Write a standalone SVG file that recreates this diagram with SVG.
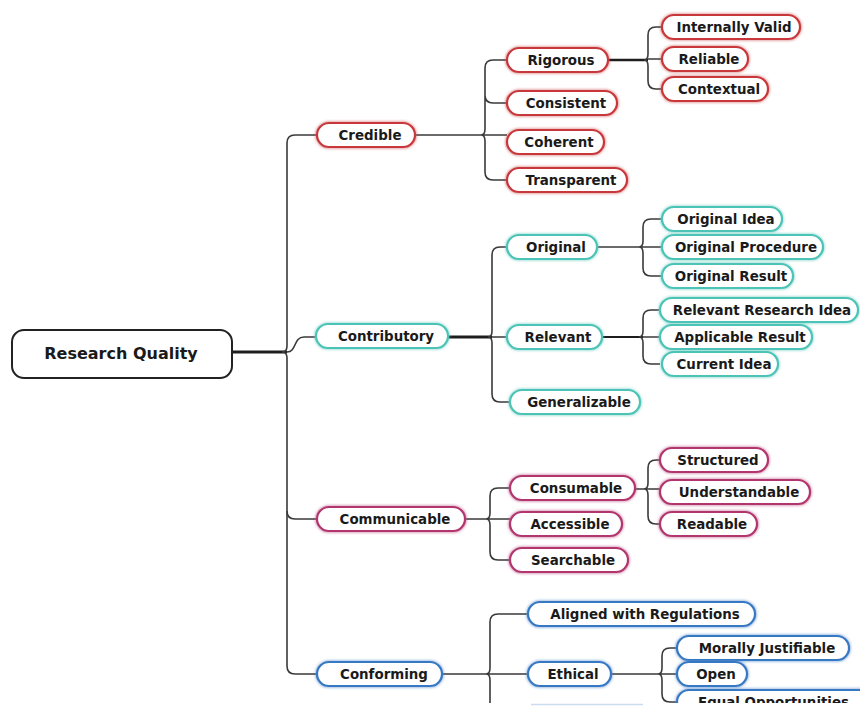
<svg xmlns="http://www.w3.org/2000/svg" width="860" height="709" viewBox="0 0 860 709">
<defs>
<filter id="glow" x="-10%" y="-40%" width="120%" height="180%">
<feGaussianBlur in="SourceGraphic" stdDeviation="1.6" result="b"/>
<feMerge><feMergeNode in="b"/><feMergeNode in="SourceGraphic"/></feMerge>
</filter>
</defs>
<style>
text{font-family:"DejaVu Sans","Liberation Sans",sans-serif;font-weight:bold;font-size:13.4px;fill:#1a1a1a;text-anchor:middle}
.n rect{fill:#fff;stroke-width:2.2;filter:url(#glow)}
.red rect{stroke:#c8373a}
.teal rect{stroke:#4bc3b6}
.mag rect{stroke:#b2346f}
.blue rect{stroke:#3678c4}
.root rect{stroke:#222;stroke-width:2;filter:none}
.root text{font-size:16px}
#connectors path{fill:none;stroke:#3a3a3a;stroke-width:1.6}
#connectors path.thick{stroke:#1e1e1e;stroke-width:3}
</style>
<rect width="860" height="709" fill="#fff"/>
<g id="connectors">
<path class="thick" d="M232,352 H287"/>
<path d="M317,135 H295 Q287,135 287,143 V346 Q287,352 282,352 M282,352 Q287,352 287,358 V666 Q287,674 295,674 H317"/>
<path d="M287,352 C297,352 293,337 304,337 H316"/>
<path d="M287,511 Q287,519 295,519 H317"/>
<path d="M415,135 H507 M507,60 H493 Q485,60 485,68 V129 Q485,135 481,135 M481,135 Q485,135 485,141 V172 Q485,180 493,180 H507 M485,95 Q485,103 493,103 H507"/>
<path class="thick" d="M608,60 H648" style="stroke-width:2.4"/>
<path d="M648,59 H662 M662,27 H656 Q648,27 648,35 V54 Q648,60 644,60 M644,60 Q648,60 648,66 V81 Q648,89 656,89 H662"/>
<path class="thick" d="M448,337 H492"/>
<path d="M492,337 H507 M507,247 H500 Q492,247 492,255 V331 Q492,337 488,337 M488,337 Q492,337 492,343 V394 Q492,402 500,402 H510"/>
<path d="M597,247 H662 M662,219 H651 Q643,219 643,227 V241 Q643,247 639,247 M639,247 Q643,247 643,253 V268 Q643,276 651,276 H662"/>
<path class="thick" d="M602,337 H643" style="stroke-width:2.2"/>
<path d="M643,337 H660 M660,310 H651 Q643,310 643,318 V331 Q643,337 639,337 M639,337 Q643,337 643,343 V356 Q643,364 651,364 H660"/>
<path d="M465,519 H510 M510,488 H498 Q490,488 490,496 V513 Q490,519 486,519 M486,519 Q490,519 490,525 V552 Q490,560 498,560 H510"/>
<path d="M635,489 H660 M660,460 H656 Q648,460 648,468 V483 Q648,489 644,489 M644,489 Q648,489 648,495 V516 Q648,524 656,524 H660"/>
<path d="M442,674 H528 M528,614 H498 Q490,614 490,622 V668 Q490,674 486,674 M486,674 Q490,674 490,680 V720"/>
<path d="M610,674 H677 M677,648 H670 Q662,648 662,656 V668 Q662,674 658,674 M658,674 Q662,674 662,680 V694 Q662,702 670,702 H677"/>
</g>
<g id="root" class="n root"><rect x="12" y="330" width="220" height="48" rx="12"/><text x="121" y="359">Research Quality</text></g>
<g id="credible" class="n red"><rect x="317" y="123" width="98" height="24" rx="12"/><text x="370" y="140">Credible</text></g>
<g id="rigorous" class="n red"><rect x="507" y="48" width="101" height="24" rx="12"/><text x="561" y="65">Rigorous</text></g>
<g id="consistent" class="n red"><rect x="507" y="91" width="110" height="24" rx="12"/><text x="566" y="108">Consistent</text></g>
<g id="coherent" class="n red"><rect x="507" y="130" width="97" height="24" rx="12"/><text x="559" y="147">Coherent</text></g>
<g id="transparent" class="n red"><rect x="507" y="168" width="120" height="24" rx="12"/><text x="571" y="185">Transparent</text></g>
<g id="internally-valid" class="n red"><rect x="662" y="15" width="138" height="24" rx="12"/><text x="734" y="32">Internally Valid</text></g>
<g id="reliable" class="n red"><rect x="662" y="47" width="86" height="24" rx="12"/><text x="709" y="64">Reliable</text></g>
<g id="contextual" class="n red"><rect x="662" y="77" width="106" height="24" rx="12"/><text x="719" y="94">Contextual</text></g>
<g id="contributory" class="n teal"><rect x="316" y="324" width="132" height="24" rx="12"/><text x="386" y="341">Contributory</text></g>
<g id="original" class="n teal"><rect x="507" y="235" width="90" height="24" rx="12"/><text x="556" y="252">Original</text></g>
<g id="relevant" class="n teal"><rect x="507" y="325" width="95" height="24" rx="12"/><text x="558" y="342">Relevant</text></g>
<g id="generalizable" class="n teal"><rect x="510" y="390" width="130" height="24" rx="12"/><text x="579" y="407">Generalizable</text></g>
<g id="original-idea" class="n teal"><rect x="662" y="207" width="120" height="24" rx="12"/><text x="726" y="224">Original Idea</text></g>
<g id="original-procedure" class="n teal"><rect x="662" y="235" width="161" height="24" rx="12"/><text x="746" y="252">Original Procedure</text></g>
<g id="original-result" class="n teal"><rect x="662" y="264" width="131" height="24" rx="12"/><text x="731" y="281">Original Result</text></g>
<g id="relevant-research-idea" class="n teal"><rect x="660" y="298" width="198" height="24" rx="12"/><text x="762" y="315">Relevant Research Idea</text></g>
<g id="applicable-result" class="n teal"><rect x="660" y="325" width="152" height="24" rx="12"/><text x="740" y="342">Applicable Result</text></g>
<g id="current-idea" class="n teal"><rect x="662" y="352" width="116" height="24" rx="12"/><text x="724" y="369">Current Idea</text></g>
<g id="communicable" class="n mag"><rect x="317" y="507" width="148" height="24" rx="12"/><text x="395" y="524">Communicable</text></g>
<g id="consumable" class="n mag"><rect x="510" y="476" width="125" height="24" rx="12"/><text x="576" y="493">Consumable</text></g>
<g id="accessible" class="n mag"><rect x="510" y="512" width="112" height="24" rx="12"/><text x="570" y="529">Accessible</text></g>
<g id="searchable" class="n mag"><rect x="510" y="548" width="118" height="24" rx="12"/><text x="573" y="565">Searchable</text></g>
<g id="structured" class="n mag"><rect x="660" y="448" width="108" height="24" rx="12"/><text x="718" y="465">Structured</text></g>
<g id="understandable" class="n mag"><rect x="660" y="480" width="150" height="24" rx="12"/><text x="739" y="497">Understandable</text></g>
<g id="readable" class="n mag"><rect x="660" y="512" width="97" height="24" rx="12"/><text x="712" y="529">Readable</text></g>
<g id="conforming" class="n blue"><rect x="317" y="662" width="125" height="24" rx="12"/><text x="384" y="679">Conforming</text></g>
<g id="aligned" class="n blue"><rect x="528" y="602" width="227" height="24" rx="12"/><text x="645" y="619">Aligned with Regulations</text></g>
<g id="ethical" class="n blue"><rect x="528" y="662" width="83" height="24" rx="12"/><text x="573" y="679">Ethical</text></g>
<g id="morally-justifiable" class="n blue"><rect x="677" y="636" width="172" height="24" rx="12"/><text x="767" y="653">Morally Justifiable</text></g>
<g id="open" class="n blue"><rect x="677" y="662" width="70" height="24" rx="12"/><text x="716" y="679">Open</text></g>
<g id="equal-opportunities" class="n blue"><rect x="677" y="690" width="200" height="24" rx="12"/><text x="698" y="707" style="text-anchor:start">Equal Opportunities</text></g>
<rect x="0" y="703" width="860" height="6" fill="#fff"/>
<line x1="531" y1="704.5" x2="643" y2="704.5" stroke="#3678c4" stroke-opacity="0.25" stroke-width="1.5"/>
</svg>
